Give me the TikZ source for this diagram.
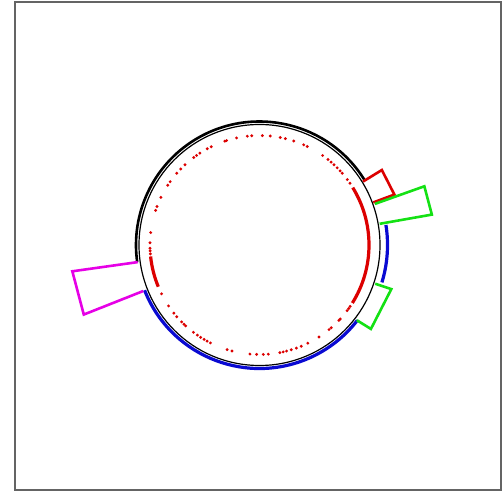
\documentclass[tikz,border=0pt]{standalone}
\usetikzlibrary{calc}
\definecolor{frm}{RGB}{100,100,100}
\definecolor{mg}{RGB}{230,0,230}
\definecolor{gr}{RGB}{20,225,20}
\definecolor{bl}{RGB}{10,10,210}
\definecolor{rd}{RGB}{220,0,0}
\tikzset{frame/.style={draw=frm,line width=0.7pt},
 thinring/.style={line width=0.6pt},
 thickring/.style={line width=1.3pt},
 shield/.style={draw=bl,line width=1.6pt},
 port/.style={line width=1.3pt,line join=miter},
 hit/.style={fill=rd,draw=none}}
\begin{document}
\begin{tikzpicture}[x=0.5pt,y=0.5pt]
\useasboundingbox (0,0) rectangle (502,491);
\draw[frame] (15,1) rectangle (501,489);
\begin{scope}[shift={(259.5,246)}]
% ring
\draw[thinring] (0,0) circle (120.5);
\draw[thickring] (31.5:123.5) arc (31.5:188:123.5);
\draw[shield] (201.5:123.5) arc (201.5:322.4:123.5);
\draw[shield] (9:128) arc (9:-17:128);
% ports
\draw[port,mg] (188:123) -- (188:189) -- (201.6:189) -- (201.6:125);
\draw[port,rd] (31.5:121.5) -- (31.5:143.5) -- (20.5:144) -- (20.5:121.5);
\draw[port,gr] (19.6:122.5) -- (19.6:175) -- (10:175) -- (10:122);
\draw[port,gr] (-18.5:122) -- (-18.5:139) -- (-37:139.5) -- (-37.7:123);
% hits
\draw[rd,line width=1.6pt] (-32:109.5) arc (-32:31.6:109.5);
\draw[rd,line width=1.6pt] (186:109.5) arc (186:202.4:109.5);
\foreach \a in {34.3,36.7,40.9,42.6,44.8,47.1,49.2,51.3,54.8,64.1,66.2,71.8,
  76.3,79.1,84.4,88.5,94.1,96.4,102.1,107.5,108.5,116.2,118.5,123,125.1,126.9,
  132.9,136,139.1,144.7,146.9,154.2,159.4,161.6,173.5,178.8,181.7,183.1,184.7,
  206.5,213.8,218.5,220.9,224.6,226.4,227.6,232.9,235.4,237.5,239.6,241.4,243.4,
  252.8,255.5,265,268.5,272,274.6,280.7,282.5,284.3,286.9,289.7,292.4,296.2,
  302.9,309.4,310.9,316.5,317.5,323.2,324.6,325.9}
  \fill[hit] (\a:109.5) circle (1.6);
\end{scope}
\end{tikzpicture}
\end{document}
